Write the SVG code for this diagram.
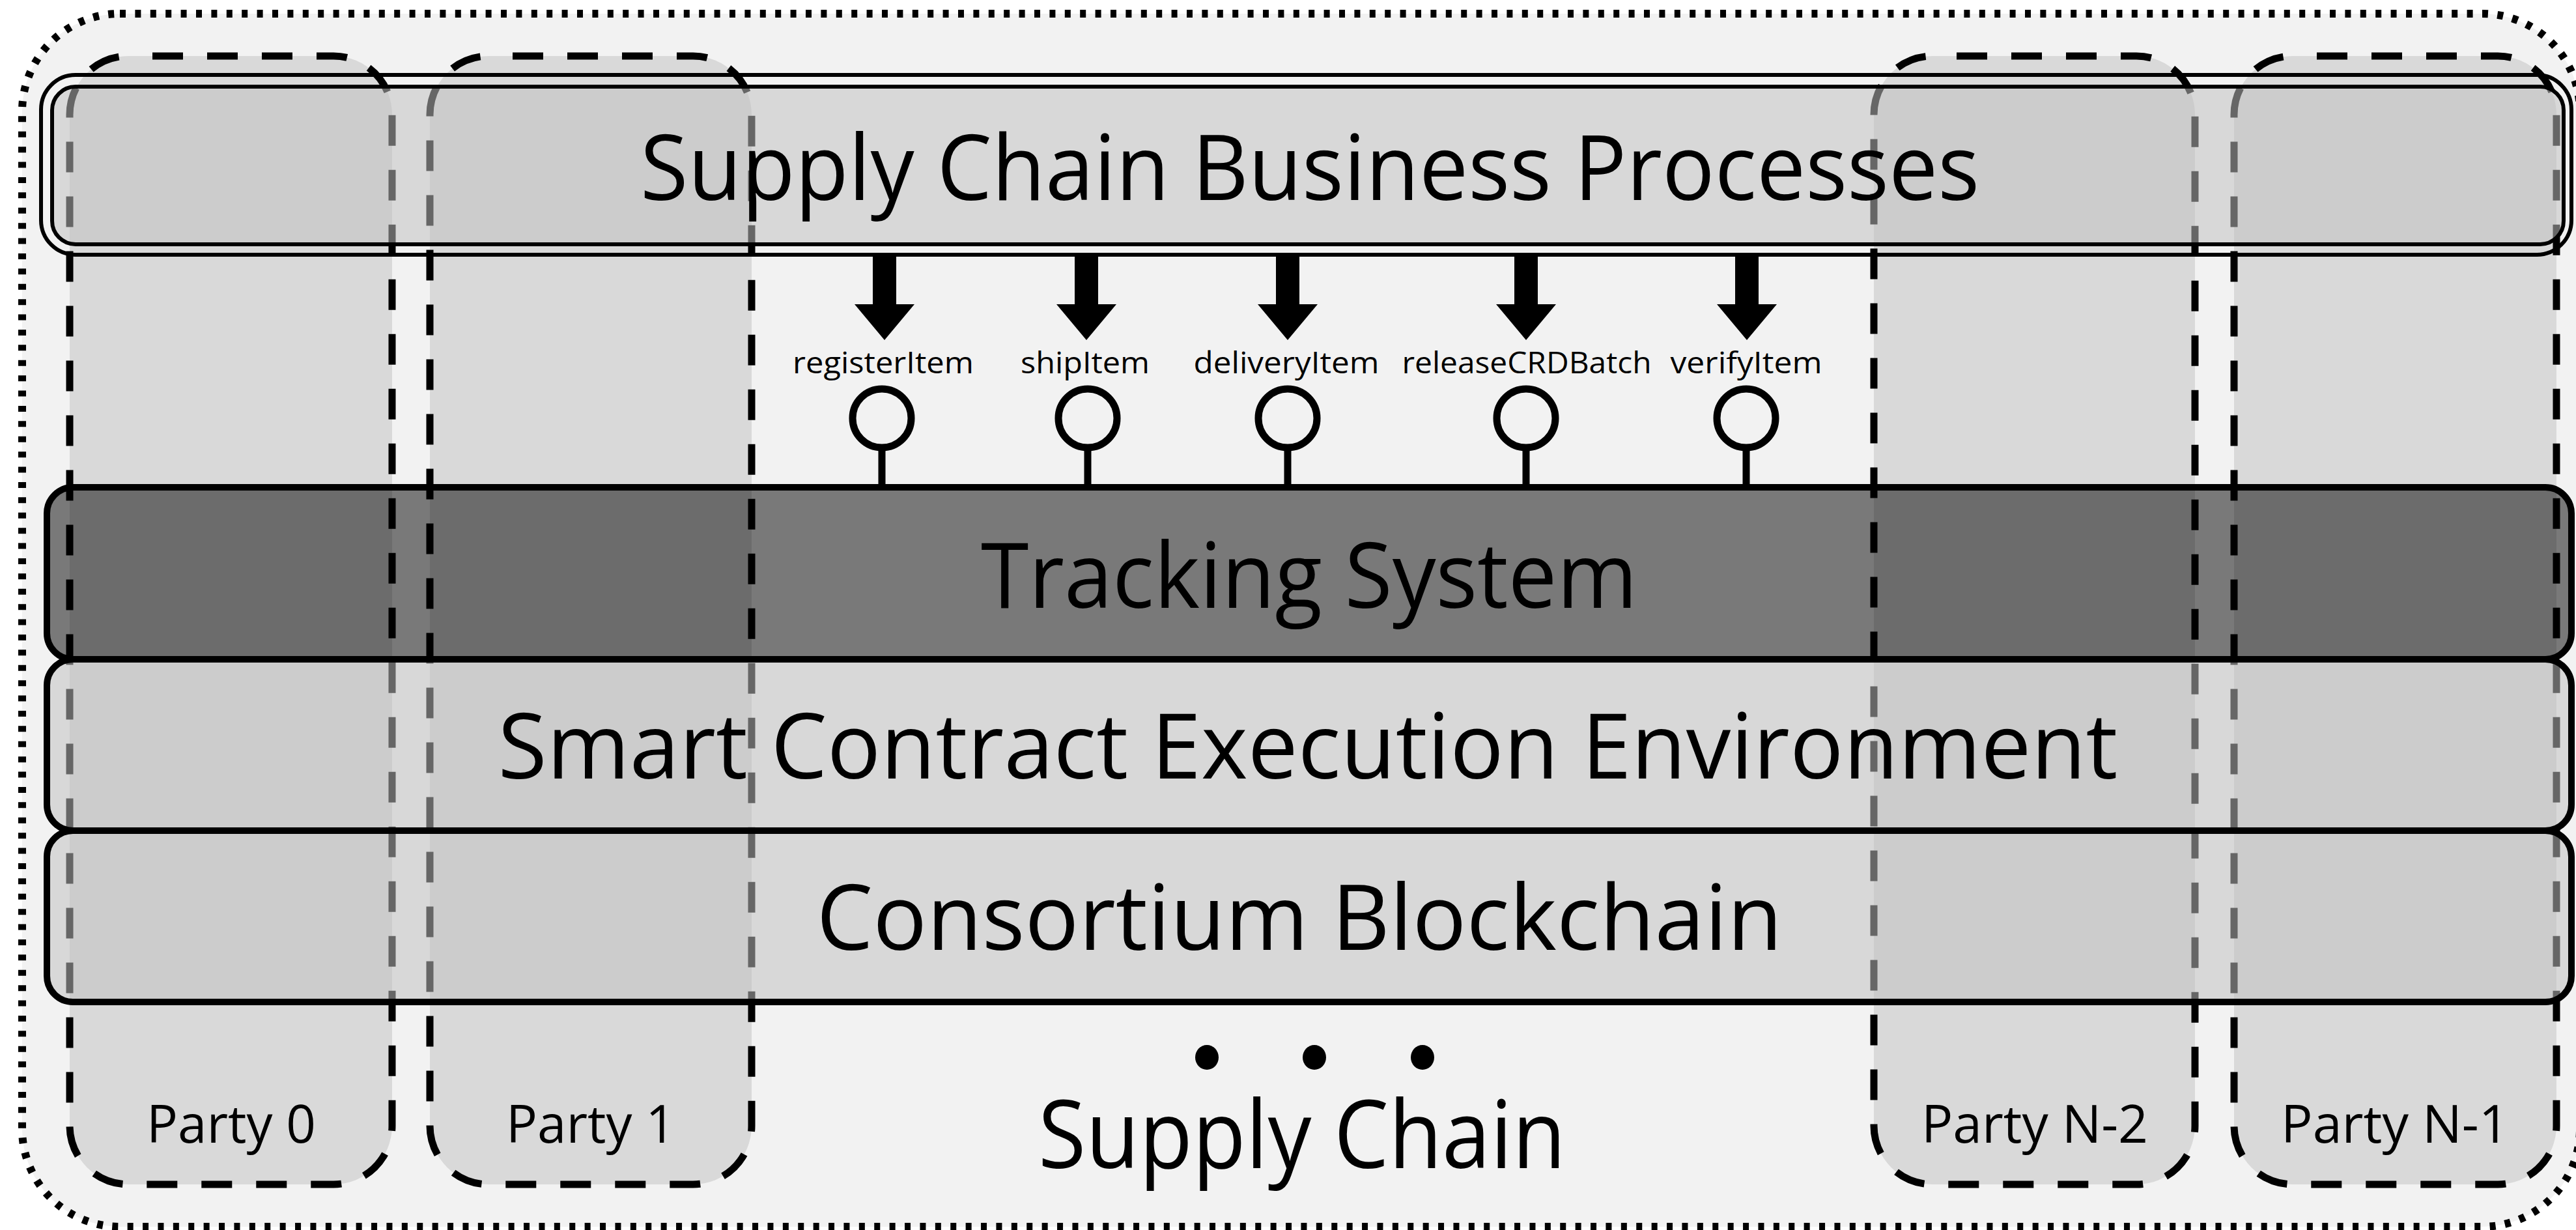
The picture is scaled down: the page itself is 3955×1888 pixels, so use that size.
<svg xmlns="http://www.w3.org/2000/svg" width="3955" height="1888" viewBox="0 0 3955 1888">
  <style>
    .txt { font-family: "Open Sans", "Noto Sans", "Liberation Sans", sans-serif; fill: #000; text-anchor: middle; }
    .big { font-size: 140px; }
    .party-label { font-size: 80px; }
    .op { font-size: 45px; }
    .party-fill { fill: #d9d9d9; stroke: none; }
    .party-edge { fill: none; stroke: #000; stroke-width: 11; stroke-dasharray: 47 37; stroke-dashoffset: 47; }
    .band-light { fill: #c0c0c0; fill-opacity: 0.53; stroke: none; }
    .band-dark { fill: #000; fill-opacity: 0.5; stroke: none; }
    .band-edge { fill: none; stroke: #000; stroke-width: 10; }
    .dbl { fill: none; stroke: #000; stroke-width: 6; }
    .arrow { fill: #000; stroke: none; }
    .port { fill: none; stroke: #000; stroke-width: 11; }
    .stem { stroke: #000; stroke-width: 11; }
  </style>

  <rect width="3955" height="1888" fill="#ffffff"/>

  <!-- supply chain boundary -->
  <g id="supply-chain">
    <rect x="34" y="21" width="3927" height="1862" rx="150" ry="150" fill="#f2f2f2" stroke="#000" stroke-width="12" stroke-dasharray="9 14.4"/>
  </g>

  <!-- party columns: fills first, dashed outlines on top -->
  <g id="party-0">
    <rect class="party-fill" x="107" y="86" width="495" height="1732" rx="90" ry="90"/>
    <rect class="party-edge" x="107" y="86" width="495" height="1732" rx="90" ry="90"/>
  </g>
  <g id="party-1">
    <rect class="party-fill" x="660" y="86" width="494" height="1732" rx="90" ry="90"/>
    <rect class="party-edge" x="660" y="86" width="494" height="1732" rx="90" ry="90"/>
  </g>
  <g id="party-n-2">
    <rect class="party-fill" x="2877" y="86" width="493" height="1732" rx="90" ry="90"/>
    <rect class="party-edge" x="2877" y="86" width="493" height="1732" rx="90" ry="90"/>
  </g>
  <g id="party-n-1">
    <rect class="party-fill" x="3430" y="86" width="495" height="1732" rx="90" ry="90"/>
    <rect class="party-edge" x="3430" y="86" width="495" height="1732" rx="90" ry="90"/>
  </g>

  <!-- business process layer (double border) -->
  <g id="business-processes">
    <rect class="band-light" x="80" y="133" width="3856" height="242" rx="36" ry="36"/>
    <rect class="dbl" x="80" y="133" width="3856" height="242" rx="36" ry="36"/>
    <rect class="dbl" x="63" y="115" width="3885" height="276" rx="53" ry="53"/>
    <text class="txt big" x="2011" y="307" textLength="2056" lengthAdjust="spacingAndGlyphs">Supply Chain Business Processes</text>
  </g>

  <!-- tracking system layer -->
  <g id="tracking-system">
    <rect class="band-dark" x="72" y="748" width="3876" height="264" rx="40" ry="40"/>
    <rect class="band-edge" x="72" y="748" width="3876" height="264" rx="40" ry="40"/>
    <text class="txt big" x="2010" y="933" textLength="1008" lengthAdjust="spacingAndGlyphs">Tracking System</text>
  </g>

  <!-- smart contract execution layer -->
  <g id="smart-contract-env">
    <rect class="band-light" x="72" y="1012" width="3876" height="263" rx="40" ry="40"/>
    <rect class="band-edge" x="72" y="1012" width="3876" height="263" rx="40" ry="40"/>
    <text class="txt big" x="2008" y="1195" textLength="2487" lengthAdjust="spacingAndGlyphs">Smart Contract Execution Environment</text>
  </g>

  <!-- blockchain layer -->
  <g id="consortium-blockchain">
    <rect class="band-light" x="72" y="1275" width="3876" height="263" rx="40" ry="40"/>
    <rect class="band-edge" x="72" y="1275" width="3876" height="263" rx="40" ry="40"/>
    <text class="txt big" x="1995" y="1458" textLength="1483" lengthAdjust="spacingAndGlyphs">Consortium Blockchain</text>
  </g>

  <!-- calls from the processes into the tracking system interface -->
  <g id="connectors">
    <polygon class="arrow" points="1340,391 1376,391 1376,467 1404,467 1358,522 1312,467 1340,467"/>
    <polygon class="arrow" points="1650,391 1686,391 1686,467 1714,467 1668,522 1622,467 1650,467"/>
    <polygon class="arrow" points="1959,391 1995,391 1995,467 2023,467 1977,522 1931,467 1959,467"/>
    <polygon class="arrow" points="2325,391 2361,391 2361,467 2389,467 2343,522 2297,467 2325,467"/>
    <polygon class="arrow" points="2664,391 2700,391 2700,467 2728,467 2682,522 2636,467 2664,467"/>

    <line class="stem" x1="1354" y1="687" x2="1354" y2="748"/>
    <line class="stem" x1="1670" y1="687" x2="1670" y2="748"/>
    <line class="stem" x1="1977" y1="687" x2="1977" y2="748"/>
    <line class="stem" x1="2343" y1="687" x2="2343" y2="748"/>
    <line class="stem" x1="2681" y1="687" x2="2681" y2="748"/>
  </g>

  <!-- interface operations (lollipops) -->
  <g id="op-registerItem">
    <circle class="port" cx="1354" cy="642" r="45"/>
    <text class="txt op" x="1356" y="573" textLength="278" lengthAdjust="spacingAndGlyphs">registerItem</text>
  </g>
  <g id="op-shipItem">
    <circle class="port" cx="1670" cy="642" r="45"/>
    <text class="txt op" x="1666" y="573" textLength="198" lengthAdjust="spacingAndGlyphs">shipItem</text>
  </g>
  <g id="op-deliveryItem">
    <circle class="port" cx="1977" cy="642" r="45"/>
    <text class="txt op" x="1975" y="573" textLength="285" lengthAdjust="spacingAndGlyphs">deliveryItem</text>
  </g>
  <g id="op-releaseCRDBatch">
    <circle class="port" cx="2343" cy="642" r="45"/>
    <text class="txt op" x="2344" y="573" textLength="383" lengthAdjust="spacingAndGlyphs">releaseCRDBatch</text>
  </g>
  <g id="op-verifyItem">
    <circle class="port" cx="2681" cy="642" r="45"/>
    <text class="txt op" x="2681" y="573" textLength="233" lengthAdjust="spacingAndGlyphs">verifyItem</text>
  </g>

  <!-- party names and supply chain caption -->
  <g id="labels">
    <text class="txt party-label" x="355" y="1754" textLength="260" lengthAdjust="spacingAndGlyphs">Party 0</text>
    <text class="txt party-label" x="907" y="1754" textLength="260" lengthAdjust="spacingAndGlyphs">Party 1</text>
    <text class="txt party-label" x="3124" y="1754" textLength="348" lengthAdjust="spacingAndGlyphs">Party N-2</text>
    <text class="txt party-label" x="3677" y="1754" textLength="350" lengthAdjust="spacingAndGlyphs">Party N-1</text>
    <ellipse cx="1853" cy="1623" rx="18" ry="19" fill="#000"/>
    <ellipse cx="2018" cy="1623" rx="18" ry="19" fill="#000"/>
    <ellipse cx="2184" cy="1623" rx="18" ry="19" fill="#000"/>
    <text class="txt" style="font-size:144px" x="1999" y="1793" textLength="810" lengthAdjust="spacingAndGlyphs">Supply Chain</text>
  </g>
</svg>
